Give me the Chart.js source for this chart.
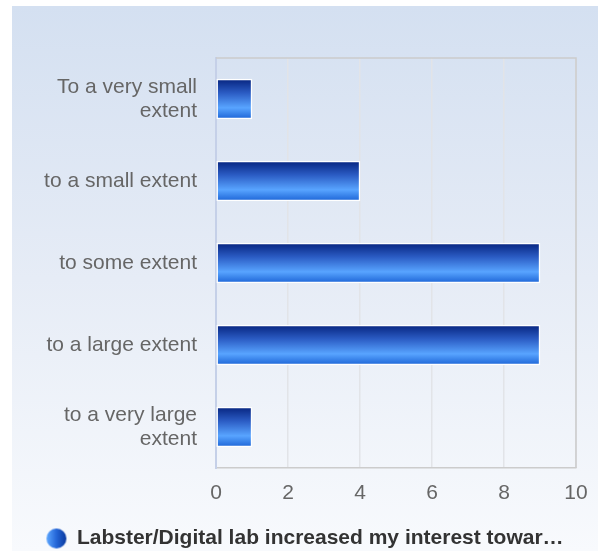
<!DOCTYPE html>
<html>
<head>
<meta charset="utf-8">
<script src="https://cdn.jsdelivr.net/npm/chart.js@4"></script>
<style>
    html, body { margin: 0; padding: 0; background: #ffffff; }
    #panel {
        position: absolute; left: 12px; top: 6px; width: 586px; height: 545px;
        background: linear-gradient(to bottom, #d4e0f1 0%, #e6ecf6 50%, #f8fafd 100%);
    }
</style>
</head>
<body>
<div id="panel"><canvas id="chart" width="586" height="545"></canvas></div>
<script>
const categories = [
    ['To a very small', 'extent'],
    'to a small extent',
    'to some extent',
    'to a large extent',
    ['to a very large', 'extent']
];
const counts = [1, 4, 9, 9, 1];
const seriesName = 'Labster/Digital lab increased my interest towar\u2026';
const xTicks = [0, 2, 4, 6, 8, 10];

const BAR_H = 40;

function barGradient(ctx) {
    const chart = ctx.chart;
    const y = chart.scales.y;
    if (!y || ctx.dataIndex === undefined) return '#2a62d0';
    const c = y.getPixelForValue(ctx.dataIndex);
    if (!isFinite(c)) return '#2a62d0';
    const g = chart.ctx.createLinearGradient(0, c - BAR_H / 2, 0, c + BAR_H / 2);
    g.addColorStop(0, '#06247f');
    g.addColorStop(0.35, '#2b5cc4');
    g.addColorStop(0.72, '#58a4ff');
    g.addColorStop(1, '#1c64d6');
    return g;
}

// legend marker: small round gradient ball
const dot = document.createElement('canvas');
dot.width = 22; dot.height = 22;
(function() {
    const c = dot.getContext('2d');
    const g = c.createLinearGradient(1, 0, 21, 0);
    g.addColorStop(0, '#5ea8ff');
    g.addColorStop(0.5, '#2466d8');
    g.addColorStop(1, '#0a3a9e');
    c.fillStyle = g;
    c.beginPath();
    c.arc(11, 11, 10, 0, Math.PI * 2);
    c.fill();
})();

const frame = {
    id: 'frame',
    beforeDatasetsDraw(chart) {
        const a = chart.chartArea, c = chart.ctx;
        c.save();
        c.strokeStyle = '#cccccc';
        c.lineWidth = 1.5;
        c.beginPath();
        c.moveTo(a.left, a.top);
        c.lineTo(a.right, a.top);
        c.lineTo(a.right, a.bottom);
        c.stroke();
        c.restore();
    }
};

Chart.defaults.font.family = '"Liberation Sans", Arial, sans-serif';

new Chart(document.getElementById('chart'), {
    type: 'bar',
    data: {
        labels: categories,
        datasets: [{
            label: seriesName,
            data: counts,
            backgroundColor: barGradient,
            borderColor: '#ffffff',
            borderWidth: 1.5,
            borderSkipped: false,
            barThickness: BAR_H,
            pointStyle: dot
        }]
    },
    options: {
        indexAxis: 'y',
        responsive: false,
        animation: false,
        layout: { padding: { top: 52, right: 0, left: 0, bottom: -8 } },
        scales: {
            x: {
                min: 0, max: 10,
                afterBuildTicks(scale) { scale.ticks = xTicks.map(v => ({ value: v })); },
                afterFit(scale) { scale.height = 58; scale.paddingRight = 22; },
                grid: { color: '#e2e4e8', lineWidth: 1.5, drawTicks: false },
                border: { color: '#cccccc', width: 1.5 },
                ticks: { color: '#666666', font: { size: 21 }, padding: 13 }
            },
            y: {
                afterFit(scale) { scale.width = 204; },
                grid: { display: false, drawTicks: false },
                border: { color: '#c5d0e8', width: 2 },
                ticks: { color: '#666666', font: { size: 21, lineHeight: 1.15 }, padding: 19 }
            }
        },
        plugins: {
            legend: {
                position: 'bottom',
                labels: {
                    usePointStyle: true,
                    boxWidth: 20,
                    boxHeight: 20,
                    color: '#333333',
                    font: { size: 21, weight: 'bold' },
                    padding: 2
                }
            },
            tooltip: { enabled: false }
        }
    },
    plugins: [frame]
});
</script>
</body>
</html>
